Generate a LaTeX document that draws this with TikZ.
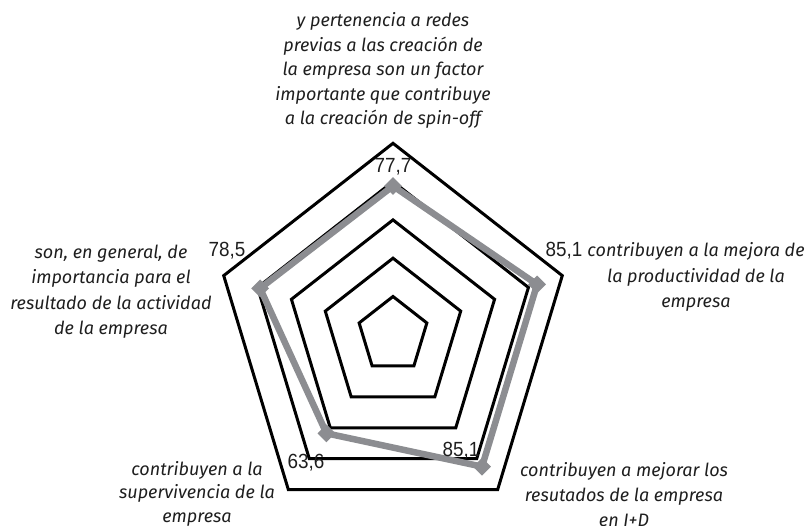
\documentclass[tikz,border=0pt]{standalone}
\usepackage{fontspec}
\setmainfont{Fira Sans}
\newfontfamily\numfont{Liberation Sans}[FakeStretch=0.92]
\usetikzlibrary{shapes.geometric}
\definecolor{datagray}{RGB}{140,141,145}
\definecolor{inkc}{RGB}{30,30,30}
\begin{document}
\begin{tikzpicture}[x=1pt,y=-1pt,
 ring/.style={draw=black,line width=3pt,line join=miter},
 dataline/.style={draw=datagray,line width=6.5pt,line join=round},
 marker/.style={diamond,fill=datagray,minimum width=18pt,minimum height=18pt,inner sep=0pt},
 val/.style={font=\numfont\fontsize{20.5}{22}\selectfont,text=inkc,inner sep=0pt},
 lab/.style={font=\itshape\fontsize{18}{25.6}\selectfont,align=center,text=inkc,inner sep=0pt,anchor=base}
]
\useasboundingbox (0,0) rectangle (809,526);
\def\cx{393}\def\cy{334.8}\def\rx{178}\def\ry{191.5}
\foreach \l in {0.2,0.4,0.6,0.8,1.0}{
 \draw[ring] ({\cx+\rx*\l*cos(90)},{\cy-\ry*\l*sin(90)})
   -- ({\cx+\rx*\l*cos(18)},{\cy-\ry*\l*sin(18)})
   -- ({\cx+\rx*\l*cos(-54)},{\cy-\ry*\l*sin(-54)})
   -- ({\cx+\rx*\l*cos(-126)},{\cy-\ry*\l*sin(-126)})
   -- ({\cx+\rx*\l*cos(162)},{\cy-\ry*\l*sin(162)}) -- cycle;
}
\coordinate (p1) at ({\cx+\rx*0.777*cos(90)},{\cy-\ry*0.777*sin(90)});
\coordinate (p2) at ({\cx+\rx*0.851*cos(18)},{\cy-\ry*0.851*sin(18)});
\coordinate (p3) at ({\cx+\rx*0.851*cos(-54)},{\cy-\ry*0.851*sin(-54)});
\coordinate (p4) at ({\cx+\rx*0.636*cos(-126)},{\cy-\ry*0.636*sin(-126)});
\coordinate (p5) at ({\cx+\rx*0.785*cos(162)},{\cy-\ry*0.785*sin(162)});
\draw[dataline] (p1) -- (p2) -- (p3) -- (p4) -- (p5) -- cycle;
\foreach \i in {1,...,5}{\node[marker] (m\i) at (p\i) {};}
\node[val] (v1) at (393,167) {77,7};
\node[val] (v5) at (227,251) {78,5};
\node[val] (v2) at (564,251) {85,1};
\node[val] (v4) at (306,462.5) {63,6};
\node[val] (v3) at (461,451) {85,1};
\node[lab,font=\itshape\fontsize{18}{24.6}\selectfont] (l1) at (383,125) {y pertenencia a redes\\previas a las creación de\\la empresa son un factor\\importante que contribuye\\a la creación de spin-off};
\node[lab] (l5) at (111,335) {son, en general, de\\importancia para el\\resultado de la actividad\\de la empresa};
\node[lab] (l2) at (696,308) {contribuyen a la mejora de\\la productividad de la\\empresa};
\node[lab,font=\itshape\fontsize{18}{23.4}\selectfont] (l4) at (197,522) {contribuyen a la\\supervivencia de la\\empresa};
\node[lab,font=\itshape\fontsize{18}{25}\selectfont] (l3) at (624,526) {contribuyen a mejorar los\\resutados de la empresa\\en I+D};
\end{tikzpicture}
\end{document}
